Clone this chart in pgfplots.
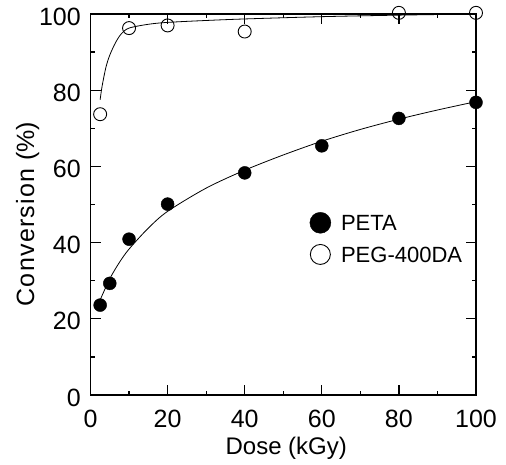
\documentclass[border=0pt]{standalone}
\usepackage{fontspec}
\setmainfont{Liberation Sans}
\usepackage{pgfplots}
\pgfplotsset{compat=1.18}
\begin{document}
\begin{tikzpicture}
\begin{axis}[
  name=ax,
  at={(0,0)}, anchor=south west,
  scale only axis,
  width=385.5pt, height=381pt,
  xmin=0, xmax=100, ymin=0, ymax=100,
  xtick={0,20,...,100}, ytick={0,20,...,100},
  minor xtick={10,30,...,90}, minor ytick={10,30,...,90},
  tick align=inside,
  major tick length=10pt, minor tick length=4.5pt,
  every tick/.style={black, line width=1.3pt},
  axis line style={line width=1.7pt},
  /pgf/number format/assume math mode=true,
  tick label style={font=\fontsize{25}{27}\selectfont, inner sep=0pt},
  xticklabel style={anchor=north, yshift=-14.5pt},
  yticklabel style={anchor=east, xshift=-9.5pt, yshift=-2.5pt},
  xlabel={Dose (kGy)},
  ylabel={{\addfontfeature{LetterSpace=5}Conversion}\hspace{8pt}(\%)},
  xlabel style={font=\fontsize{24}{26}\selectfont, inner sep=0pt,
    at={(axis description cs:0.5078,-0.1102)}, anchor=north},
  ylabel style={font=\fontsize{25}{27}\selectfont, inner sep=0pt,
    at={(axis description cs:-0.146,0.475)}, anchor=base},
  clip=false,
  legend style={draw=none, fill=none, inner sep=0pt,
    nodes={inner sep=0pt, text depth=0pt},
    font=\fontsize{22}{24}\selectfont,
    at={(axis description cs:0.568,0.4108)}, anchor=west, row sep=10.5pt,
    /tikz/every odd column/.append style={column sep=10pt}},
  legend cell align=left,
]
% fitted curves
\addplot[black, line width=0.8pt, smooth, forget plot] coordinates {
  (2.3,24.5) (5,30.5) (7.5,34.8) (10,38.3) (15,43.8) (20,48.2) (30,54.3)
  (40,59.0) (50,63.0) (60,66.6) (70,69.7) (80,72.4) (90,74.8) (100,77.0)};
\addplot[black, line width=0.8pt, smooth, forget plot] coordinates {
  (2.5,77.5) (3,81) (4,86) (5,89.2) (6.5,92.5) (8,94.8) (10,96.3)
  (15,97.3) (20,97.8) (30,98.3) (40,98.7) (60,99.3) (80,99.7) (100,100)};
% data
\addplot[only marks, mark=*, mark size=6.5pt, black,
  legend image code/.code={\fill[black] (0pt,0pt) circle (10.5pt);}] coordinates {
  (2.5,23.6) (5,29.3) (10,40.9) (20,50.1) (40,58.3) (60,65.4) (80,72.6) (100,76.8)};
\addlegendentry{PETA}
\addplot[only marks, mark=o, mark size=6.5pt, black, line width=0.9pt,
  mark options={fill=white},
  legend image code/.code={\draw[black, line width=0.9pt, fill=white] (0pt,0pt) circle (10pt);}] coordinates {
  (2.5,73.7) (10,96.3) (20,97.0) (40,95.4) (80,100.3) (100,100.3)};
\addlegendentry{PEG-400DA}
\end{axis}
\pgfresetboundingbox
\path ([shift={(-90.5pt,-69pt)}]ax.south west) rectangle ([shift={(30pt,14pt)}]ax.north east);
\end{tikzpicture}
\end{document}
